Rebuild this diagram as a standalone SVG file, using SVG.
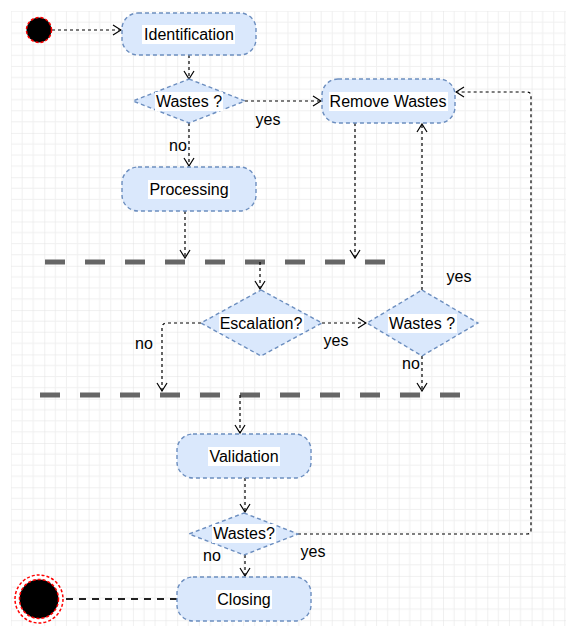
<svg xmlns="http://www.w3.org/2000/svg" width="566" height="626" viewBox="0 0 566 626">
  <style>
    .node { fill: #dae8fc; stroke: #6c8ebf; stroke-width: 1.4; stroke-dasharray: 4 3; }
    .lbl-bg { fill: #ffffff; }
    .txt { font-family: "Liberation Sans", Arial, sans-serif; font-size: 16px; fill: #000; text-anchor: middle; }
    .edge { fill: none; stroke: #000; stroke-width: 1.2; stroke-dasharray: 3 3; marker-end: url(#open); }
    .bar { fill: none; stroke: #666; stroke-width: 5; stroke-dasharray: 20 20; }
    .state { stroke: #ff0000; stroke-width: 1.5; stroke-dasharray: 3 2; }
  </style>
  <defs>
    <pattern id="grid" patternUnits="userSpaceOnUse" width="44.3" height="44.3">
      <path d="M11.075 0V44.3M22.15 0V44.3M33.225 0V44.3M0 11.075H44.3M0 22.15H44.3M0 33.225H44.3" stroke="#f0f0f0" stroke-width="1" fill="none"/>
      <path d="M0 0V44.3M0 0H44.3" stroke="#e2e2e2" stroke-width="1" fill="none"/>
    </pattern>
    <marker id="open" viewBox="0 0 10 12" refX="9" refY="6" markerWidth="10" markerHeight="12" markerUnits="userSpaceOnUse" orient="auto">
      <path d="M1 1L9 6L1 11" fill="none" stroke="#000" stroke-width="1.2"/>
    </marker>
  </defs>

  <rect width="566" height="626" fill="#ffffff"/>
  <rect x="11" y="11" width="555" height="615" fill="url(#grid)"/>

  <!-- fork / join bars -->
  <g id="bar-join-1">
    <path class="bar" d="M45 262H385"/>
  </g>
  <g id="bar-join-2">
    <path class="bar" d="M40 395H460"/>
  </g>

  <!-- connectors -->
  <g id="connectors">
    <path class="edge" d="M52 30H121"/>
    <path class="edge" d="M189 55V79"/>
    <path class="edge" d="M245 101H321"/>
    <path class="edge" d="M189 123V166"/>
    <path class="edge" d="M185 211V258"/>
    <path class="edge" d="M355 123V258"/>
    <path class="edge" d="M260 262V289"/>
    <path class="edge" d="M322 323H366"/>
    <path class="edge" d="M201 323H167Q162 323 162 328V391"/>
    <path class="edge" d="M422 290V124"/>
    <path class="edge" d="M422 356V391"/>
    <path class="edge" d="M240 395V433"/>
    <path class="edge" d="M245 478V512"/>
    <path class="edge" d="M245 555V576"/>
    <path class="edge" d="M298 534H527Q531 534 531 530V96Q531 92 527 92H456"/>
    <path d="M177 599H64" fill="none" stroke="#222" stroke-width="2.2" stroke-dasharray="7 6"/>
    <text class="txt" x="268" y="125">yes</text>
    <text class="txt" x="178" y="151">no</text>
    <text class="txt" x="144" y="349">no</text>
    <text class="txt" x="336" y="346">yes</text>
    <text class="txt" x="459" y="282">yes</text>
    <text class="txt" x="411" y="369">no</text>
    <text class="txt" x="212" y="561">no</text>
    <text class="txt" x="313" y="557">yes</text>
  </g>

  <!-- nodes -->
  <g id="start">
    <circle class="state" cx="39" cy="30" r="12.5" fill="#000"/>
  </g>
  <g id="identification">
    <rect class="node" x="122" y="13" width="134" height="42" rx="16"/>
    <rect class="lbl-bg" x="142" y="25" width="93" height="19"/>
    <text class="txt" x="189" y="40">Identification</text>
  </g>
  <g id="wastes-1">
    <polygon class="node" points="189,79 245,101 189,123 133,101"/>
    <rect class="lbl-bg" x="155" y="92" width="68" height="19"/>
    <text class="txt" x="189" y="107">Wastes ?</text>
  </g>
  <g id="remove-wastes">
    <rect class="node" x="322" y="79" width="133" height="44" rx="16"/>
    <rect class="lbl-bg" x="329" y="92" width="119" height="19"/>
    <text class="txt" x="388" y="107">Remove Wastes</text>
  </g>
  <g id="processing">
    <rect class="node" x="122" y="167" width="134" height="44" rx="16"/>
    <rect class="lbl-bg" x="148" y="180" width="82" height="19"/>
    <text class="txt" x="189" y="195">Processing</text>
  </g>
  <g id="escalation">
    <polygon class="node" points="261,290 322,323 261,356 201,323"/>
    <rect class="lbl-bg" x="219" y="314" width="85" height="19"/>
    <text class="txt" x="261" y="329">Escalation?</text>
  </g>
  <g id="wastes-2">
    <polygon class="node" points="422,290 478,323 422,356 367,323"/>
    <rect class="lbl-bg" x="388" y="314" width="69" height="19"/>
    <text class="txt" x="422" y="329">Wastes ?</text>
  </g>
  <g id="validation">
    <rect class="node" x="177" y="434" width="134" height="44" rx="16"/>
    <rect class="lbl-bg" x="208" y="447" width="72" height="19"/>
    <text class="txt" x="244" y="462">Validation</text>
  </g>
  <g id="wastes-3">
    <polygon class="node" points="244,513 298,534 244,555 189,534"/>
    <rect class="lbl-bg" x="212" y="524" width="64" height="19"/>
    <text class="txt" x="244" y="539">Wastes?</text>
  </g>
  <g id="closing">
    <rect class="node" x="177" y="577" width="134" height="44" rx="16"/>
    <rect class="lbl-bg" x="216" y="590" width="56" height="19"/>
    <text class="txt" x="244" y="605">Closing</text>
  </g>
  <g id="end">
    <circle class="state" cx="39" cy="599" r="24" fill="#fff"/>
    <circle class="state" cx="39" cy="599" r="19.5" fill="#000"/>
  </g>
</svg>
